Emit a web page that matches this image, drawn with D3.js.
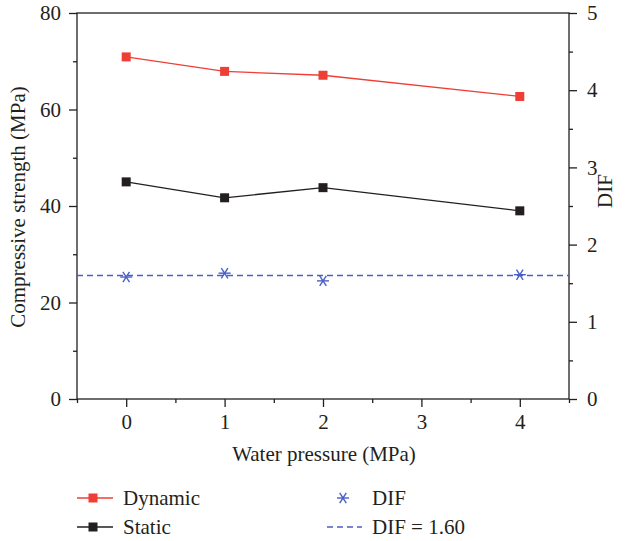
<!DOCTYPE html>
<html><head><meta charset="utf-8">
<script src="https://cdn.jsdelivr.net/npm/d3@7"></script>
<style>body{margin:0;background:#fff}text{font-family:"Liberation Serif","DejaVu Serif",serif;fill:#231f20}</style>
</head><body><svg id="c" width="627" height="541"></svg>
<script>
const pressures = [0, 1, 2, 4];
const dynamicStrength = [70.9, 67.9, 67.1, 62.7];
const staticStrength = [45.0, 41.7, 43.8, 39.0];
const difValues = [1.58, 1.63, 1.53, 1.61];
const difMean = 1.60;
const xTicks = [0, 1, 2, 3, 4];
const yLeftTicks = [0, 20, 40, 60, 80];
const yRightTicks = [0, 1, 2, 3, 4, 5];

const svg = d3.select("#c");
const L = 77, R = 569, T = 13, B = 399;
const x = d3.scaleLinear().domain([-0.5, 4.5]).range([L, R]);
const yL = d3.scaleLinear().domain([0, 80]).range([B, T]);
const yR = d3.scaleLinear().domain([0, 5]).range([B, T]);
const ink = "#231f20", red = "#ee3e36", blue = "#4a5ec6";

svg.append("rect").attr("x", L).attr("y", T).attr("width", R - L).attr("height", B - T)
  .attr("fill", "none").attr("stroke", ink).attr("stroke-width", 1.3);

function styleAxis(g) {
  g.attr("font-family", null).attr("font-size", null);
  g.select(".domain").remove();
  g.selectAll("line").attr("stroke", ink).attr("stroke-width", 1.3);
  g.selectAll("text").style("font-size", "21px").attr("fill", ink);
}
svg.append("g").attr("transform", `translate(0,${B})`)
  .call(d3.axisBottom(x).tickValues(xTicks).tickFormat(d3.format("d")).tickSize(8).tickPadding(7)).call(styleAxis);
svg.append("g").attr("transform", `translate(0,${B})`)
  .call(d3.axisBottom(x).tickValues([-0.5, 0.5, 1.5, 2.5, 3.5, 4.5]).tickFormat("").tickSize(4)).call(styleAxis);
svg.append("g").attr("transform", `translate(${L},0)`)
  .call(d3.axisLeft(yL).tickValues(yLeftTicks).tickFormat(d3.format("d")).tickSize(8).tickPadding(8)).call(styleAxis);
svg.append("g").attr("transform", `translate(${L},0)`)
  .call(d3.axisLeft(yL).tickValues([10, 30, 50, 70]).tickFormat("").tickSize(4)).call(styleAxis);
svg.append("g").attr("transform", `translate(${R},0)`)
  .call(d3.axisRight(yR).tickValues(yRightTicks).tickFormat(d3.format("d")).tickSize(8).tickPadding(10)).call(styleAxis);
svg.append("g").attr("transform", `translate(${R},0)`)
  .call(d3.axisRight(yR).tickValues([0.5, 1.5, 2.5, 3.5, 4.5]).tickFormat("").tickSize(4)).call(styleAxis);

svg.append("text").attr("x", (L + R) / 2 + 1).attr("y", 461).attr("text-anchor", "middle")
  .style("font-size", "21px").text("Water pressure (MPa)");
svg.append("text").attr("transform", `translate(25,${(T + B) / 2 + 1}) rotate(-90)`).attr("text-anchor", "middle")
  .style("font-size", "21px").text("Compressive strength (MPa)");
svg.append("text").attr("transform", `translate(612,${(T + B) / 2 - 15}) rotate(-90)`).attr("text-anchor", "middle")
  .style("font-size", "21px").text("DIF");

svg.append("line").attr("x1", L).attr("x2", R).attr("y1", yR(difMean)).attr("y2", yR(difMean))
  .attr("stroke", blue).attr("stroke-width", 1.4).attr("stroke-dasharray", "6,4");

const line = d3.line().x((d, i) => x(pressures[i])).y(d => yL(d));
function series(vals, color) {
  svg.append("path").datum(vals).attr("d", line).attr("fill", "none").attr("stroke", color).attr("stroke-width", 1.3);
  svg.selectAll(null).data(vals).enter().append("rect")
    .attr("x", (d, i) => x(pressures[i]) - 4.5).attr("y", d => yL(d) - 4.5)
    .attr("width", 9).attr("height", 9).attr("fill", color);
}
series(dynamicStrength, red);
series(staticStrength, ink);

function star(g, cx, cy, r) {
  const p = g.append("g").attr("stroke", blue).attr("stroke-width", 1.4);
  p.append("line").attr("x1", cx - r).attr("x2", cx + r).attr("y1", cy).attr("y2", cy);
  p.append("line").attr("x1", cx - r * 0.55).attr("x2", cx + r * 0.55).attr("y1", cy - r * 0.85).attr("y2", cy + r * 0.85);
  p.append("line").attr("x1", cx - r * 0.55).attr("x2", cx + r * 0.55).attr("y1", cy + r * 0.85).attr("y2", cy - r * 0.85);
}
difValues.forEach((d, i) => star(svg, x(pressures[i]), yR(d), 6));

function legLine(y, color) {
  svg.append("line").attr("x1", 77).attr("x2", 113).attr("y1", y).attr("y2", y).attr("stroke", color).attr("stroke-width", 1.3);
  svg.append("rect").attr("x", 93 - 4.5).attr("y", y - 4.5).attr("width", 9).attr("height", 9).attr("fill", color);
}
legLine(498, red);
legLine(527, ink);
svg.append("text").attr("x", 123).attr("y", 505).style("font-size", "21px").text("Dynamic");
svg.append("text").attr("x", 123).attr("y", 534).style("font-size", "21px").text("Static");
star(svg, 343, 498, 6);
svg.append("text").attr("x", 372).attr("y", 505).style("font-size", "21px").text("DIF");
svg.append("line").attr("x1", 327).attr("x2", 362).attr("y1", 527).attr("y2", 527)
  .attr("stroke", blue).attr("stroke-width", 1.4).attr("stroke-dasharray", "6,4");
svg.append("text").attr("x", 372).attr("y", 534).style("font-size", "21px").text("DIF = 1.60");
</script></body></html>
